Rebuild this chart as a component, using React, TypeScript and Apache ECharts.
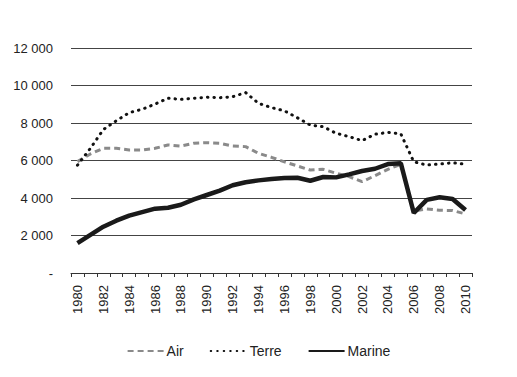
import React, { useEffect, useRef } from "react";
import * as echarts from "echarts";

const years = Array.from({ length: 31 }, (_, i) => String(1980 + i));
const airValues = [5940, 6350, 6650, 6650, 6560, 6560, 6650, 6830, 6770, 6920, 6950, 6920, 6770, 6740, 6380, 6170, 5930, 5710, 5490, 5530, 5320, 5140, 4870, 5190, 5530, 5800, 3300, 3420, 3350, 3330, 3150];
const terreValues = [5750, 6650, 7650, 8120, 8550, 8730, 9010, 9320, 9260, 9320, 9370, 9350, 9400, 9620, 9050, 8820, 8650, 8280, 7890, 7800, 7450, 7270, 7060, 7400, 7500, 7420, 5930, 5760, 5810, 5880, 5800];
const marineValues = [1590, 2030, 2470, 2790, 3060, 3250, 3430, 3480, 3640, 3930, 4160, 4390, 4680, 4840, 4940, 5010, 5070, 5080, 4920, 5120, 5100, 5260, 5440, 5560, 5810, 5850, 3200, 3900, 4040, 3950, 3360];

const FONT = "'Liberation Sans Narrow', 'Liberation Sans', sans-serif";

export default function App() {
  const ref = useRef<HTMLDivElement>(null);
  useEffect(() => {
    const chart = echarts.init(ref.current!, null, { renderer: "svg" });
    chart.setOption({
      animation: false,
      backgroundColor: "#ffffff",
      grid: { left: 71, right: 45, top: 48, bottom: 104 },
      legend: {
        bottom: 14,
        left: "center",
        itemWidth: 36,
        itemHeight: 10,
        itemGap: 26,
        itemStyle: { opacity: 0 },
        textStyle: { fontFamily: FONT, fontSize: 14, color: "#222", padding: [0, 0, 0, -2] },
        data: ["Air", "Terre", "Marine"],
      },
      xAxis: {
        type: "category",
        data: years,
        boundaryGap: true,
        axisLine: { lineStyle: { color: "#333", width: 1 } },
        axisTick: { show: true, length: 4, interval: 0, lineStyle: { color: "#333" } },
        axisLabel: {
          interval: 1,
          rotate: 90,
          margin: 12,
          fontFamily: FONT,
          fontSize: 13,
          color: "#222",
        },
      },
      yAxis: {
        type: "value",
        min: 0,
        max: 12000,
        interval: 2000,
        axisLine: { show: false },
        axisTick: { show: false },
        splitLine: { lineStyle: { color: "#444", width: 1 } },
        axisLabel: {
          margin: 18,
          fontFamily: FONT,
          fontSize: 13,
          color: "#222",
          formatter: (v: number) =>
            v === 0 ? "-" : String(v).replace(/\B(?=(\d{3})+(?!\d))/g, " "),
        },
      },
      series: [
        {
          name: "Air",
          type: "line",
          data: airValues,
          symbol: "none",
          z: 2,
          lineStyle: { color: "#8a8a8a", width: 3, type: [6, 4] },
          itemStyle: { color: "#8a8a8a" },
        },
        {
          name: "Terre",
          type: "line",
          data: terreValues,
          symbol: "none",
          z: 3,
          lineStyle: { color: "#111", width: 3, type: [0.5, 6], cap: "round" },
          itemStyle: { color: "#111" },
        },
        {
          name: "Marine",
          type: "line",
          data: marineValues,
          symbol: "none",
          z: 4,
          lineStyle: { color: "#1a1a1a", width: 4.5 },
          itemStyle: { color: "#1a1a1a" },
        },
      ],
    });
    return () => chart.dispose();
  }, []);
  return <div ref={ref} style={{ width: 517, height: 377, margin: -8 }} />;
}
